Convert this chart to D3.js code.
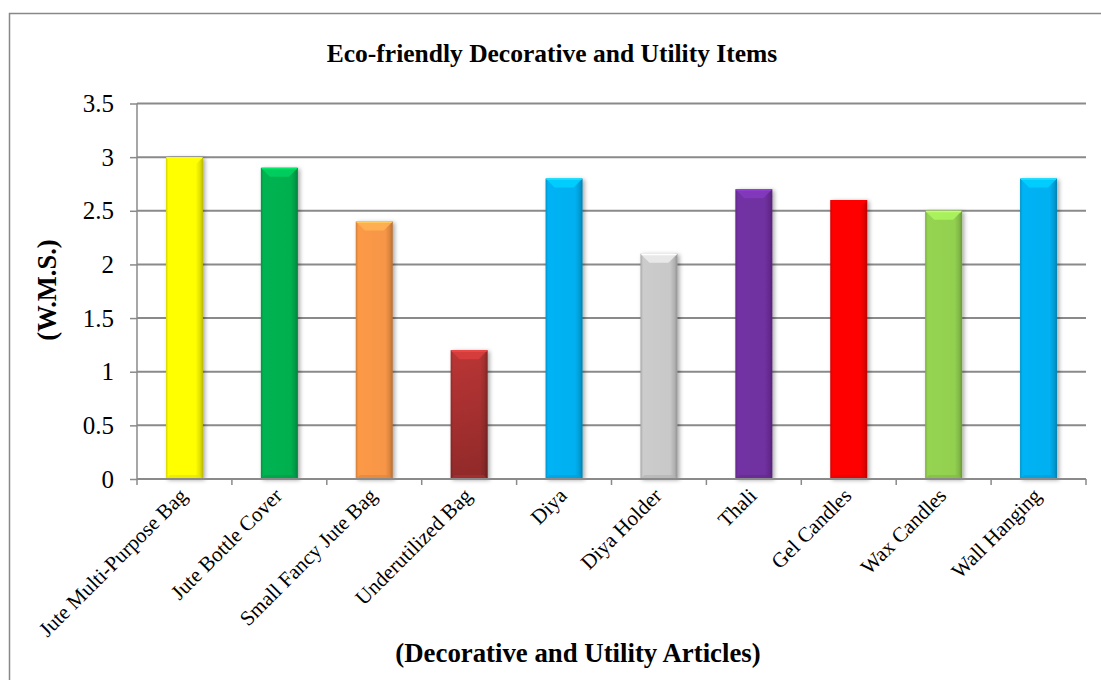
<!DOCTYPE html>
<html>
<head>
<meta charset="utf-8">
<script src="https://cdn.jsdelivr.net/npm/d3@7"></script>
<style>
  html, body { margin: 0; padding: 0; background: #fff; }
  svg { display: block; }
  text { font-family: "Liberation Serif", "Times New Roman", serif; fill: #000; }
</style>
</head>
<body>
<svg id="chart" width="1101" height="680"></svg>
<script>
// Weighted mean scores of eco-friendly decorative and utility articles
const categories = [
  "Jute Multi-Purpose Bag", "Jute Bottle Cover", "Small Fancy Jute Bag",
  "Underutilized Bag", "Diya", "Diya Holder", "Thali", "Gel Candles",
  "Wax Candles", "Wall Hanging"
];
const scores = [3.0, 2.9, 2.4, 1.2, 2.8, 2.1, 2.7, 2.6, 2.5, 2.8];
const barColors = [
  "#FFFF00", "#00B050", "#F79646", "#B83535", "#00B0F0",
  "#C8C8C8", "#7030A0", "#FF0000", "#92D050", "#00B0F0"
];
const yTicks = [0, 0.5, 1, 1.5, 2, 2.5, 3, 3.5];
const yTickLabels = ["0", "0.5", "1", "1.5", "2", "2.5", "3", "3.5"];

const svg = d3.select("#chart");
const plot = { left: 137, right: 1086, top: 103.5, bottom: 479 };

const x = d3.scaleBand()
  .domain(categories)
  .range([plot.left, plot.right])
  .paddingInner(0.61)
  .paddingOuter(0.305);
const y = d3.scaleLinear().domain([0, 3.5]).range([plot.bottom, plot.top]);

// outer chart frame
svg.append("rect")
  .attr("x", 9.5).attr("y", 13.5)
  .attr("width", 1110).attr("height", 700)
  .attr("fill", "none").attr("stroke", "#888").attr("stroke-width", 1.5);

const defs = svg.append("defs");
const shadow = defs.append("filter").attr("id", "barShadow")
  .attr("x", "-30%").attr("y", "-10%").attr("width", "160%").attr("height", "120%");
shadow.append("feDropShadow")
  .attr("dx", 2).attr("dy", 1).attr("stdDeviation", 2)
  .attr("flood-color", "#000").attr("flood-opacity", 0.35);

// horizontal gridlines
const gridColor = "#8a8a8a";
svg.append("g")
  .selectAll("line")
  .data(yTicks.filter(d => d > 0))
  .join("line")
  .attr("x1", plot.left).attr("x2", plot.right)
  .attr("y1", d => y(d)).attr("y2", d => y(d))
  .attr("stroke", gridColor).attr("stroke-width", 2);

// y axis
const yAxis = d3.axisLeft(y)
  .tickValues(yTicks)
  .tickFormat((d, i) => yTickLabels[i])
  .tickSize(7)
  .tickPadding(16);
const gy = svg.append("g").attr("transform", `translate(${plot.left},0)`).call(yAxis);
gy.select(".domain").attr("stroke", gridColor).attr("stroke-width", 1.5)
  .attr("d", `M0,${plot.top}V${plot.bottom}`);
gy.selectAll(".tick line").attr("stroke", gridColor).attr("stroke-width", 1.5);
gy.selectAll(".tick text")
  .attr("font-size", 25)
  .attr("font-family", "Liberation Serif, serif")
  .attr("fill", "#000");

// bars with a bevelled look
const bars = svg.append("g");
categories.forEach((c, i) => {
  const base = d3.color(barColors[i]);
  const gid = "grad" + i;
  const g = defs.append("linearGradient").attr("id", gid)
    .attr("x1", "0%").attr("x2", "100%").attr("y1", "0%").attr("y2", "0%");
  g.append("stop").attr("offset", "0%").attr("stop-color", base.darker(0.5));
  g.append("stop").attr("offset", "7%").attr("stop-color", base.brighter(0.05));
  g.append("stop").attr("offset", "80%").attr("stop-color", base);
  g.append("stop").attr("offset", "92%").attr("stop-color", base.darker(0.35));
  g.append("stop").attr("offset", "100%").attr("stop-color", base.darker(0.9));

  const bx = x(c), bw = x.bandwidth();
  const top = y(scores[i]), bottom = y(0);
  const bev = Math.min(9, (bottom - top) / 3);

  const grp = bars.append("g");
  grp.append("rect")
    .attr("x", bx).attr("y", top)
    .attr("width", bw).attr("height", bottom - top)
    .attr("fill", `url(#${gid})`)
    .attr("filter", "url(#barShadow)");

  if (i === 3) {
    // darker lower part on this bar
    const vg = defs.append("linearGradient").attr("id", "vgrad" + i)
      .attr("x1", "0%").attr("x2", "0%").attr("y1", "0%").attr("y2", "100%");
    vg.append("stop").attr("offset", "0%").attr("stop-color", "#000").attr("stop-opacity", 0);
    vg.append("stop").attr("offset", "100%").attr("stop-color", "#000").attr("stop-opacity", 0.22);
    grp.append("rect")
      .attr("x", bx).attr("y", top)
      .attr("width", bw).attr("height", bottom - top)
      .attr("fill", `url(#vgrad${i})`);
  }

  // top bevel
  grp.append("path")
    .attr("d", `M${bx},${top}L${bx + bw},${top}L${bx + bw - bev},${top + bev}L${bx + bev},${top + bev}Z`)
    .attr("fill", base.brighter(0.45))
    .attr("opacity", 0.9);
  // top highlight line
  grp.append("line")
    .attr("x1", bx + 1).attr("x2", bx + bw - 1)
    .attr("y1", top + 0.75).attr("y2", top + 0.75)
    .attr("stroke", base.brighter(0.8)).attr("stroke-width", 1.5);
  // bottom bevel
  grp.append("path")
    .attr("d", `M${bx},${bottom}L${bx + bw},${bottom}L${bx + bw - 4},${bottom - 4}L${bx + 4},${bottom - 4}Z`)
    .attr("fill", base.darker(0.3))
    .attr("opacity", 0.7);
});

// x axis baseline and ticks at band edges
const step = x.step();
const edges = d3.range(categories.length + 1).map(k => plot.left + k * step);
svg.append("line")
  .attr("x1", plot.left).attr("x2", plot.right)
  .attr("y1", plot.bottom).attr("y2", plot.bottom)
  .attr("stroke", gridColor).attr("stroke-width", 2);
svg.append("g").selectAll("line").data(edges).join("line")
  .attr("x1", d => d).attr("x2", d => d)
  .attr("y1", plot.bottom).attr("y2", plot.bottom + 6)
  .attr("stroke", gridColor).attr("stroke-width", 1.5);

// rotated category labels
svg.append("g").selectAll("text").data(categories).join("text")
  .attr("transform", d => `translate(${x(d) + x.bandwidth() / 2 + 4},${plot.bottom + 18}) rotate(-45)`)
  .attr("text-anchor", "end")
  .attr("font-size", 21)
  .text(d => d);

// titles
svg.append("text")
  .attr("x", 552).attr("y", 62)
  .attr("text-anchor", "middle")
  .attr("font-size", 25.5).attr("font-weight", "bold")
  .text("Eco-friendly Decorative and Utility Items");

svg.append("text")
  .attr("x", 578).attr("y", 662)
  .attr("text-anchor", "middle")
  .attr("font-size", 26.8).attr("font-weight", "bold")
  .text("(Decorative and Utility Articles)");

svg.append("text")
  .attr("transform", "translate(56,290) rotate(-90)")
  .attr("text-anchor", "middle")
  .attr("font-size", 26.5).attr("font-weight", "bold")
  .text("(W.M.S.)");
</script>
</body>
</html>
